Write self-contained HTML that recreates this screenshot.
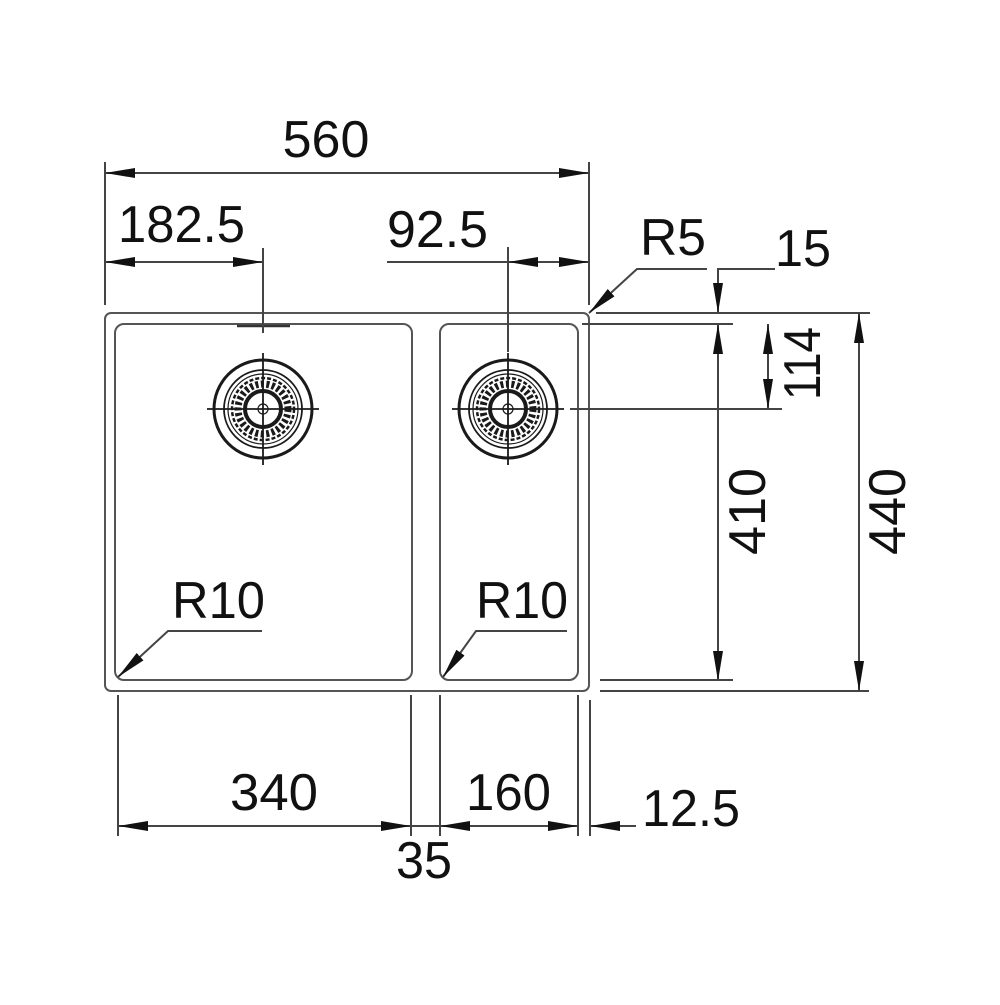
<!DOCTYPE html>
<html><head><meta charset="utf-8"><style>html,body{margin:0;padding:0;background:#fff}</style></head>
<body>
<svg width="1000" height="1000" viewBox="0 0 1000 1000" xmlns="http://www.w3.org/2000/svg">
<defs>
<marker id="a" viewBox="0 0 30 10" refX="30" refY="5" markerWidth="30" markerHeight="10" markerUnits="userSpaceOnUse" orient="auto-start-reverse">
<path d="M0,0 L30,5 L0,10 z" fill="#111"/>
</marker>
<g id="drain" fill="none" stroke="#1a1a1a">
<circle r="49" stroke-width="3"/>
<circle r="39" stroke-width="1.8"/>
<circle r="35" stroke-width="1.2"/>
<circle r="31" stroke-width="2.5" stroke-dasharray="4 2"/>
<circle r="25" stroke-width="7" stroke-dasharray="3 2.5"/>
<circle r="18" stroke-width="4"/>
<circle r="5" stroke-width="1.2"/>
<line x1="-56" y1="0" x2="56" y2="0" stroke-width="1.8"/>
<line x1="0" y1="-56" x2="0" y2="56" stroke-width="1.8"/>
</g>
</defs>
<g fill="none" stroke="#555" stroke-width="2">
<rect x="105" y="313" width="484" height="378" rx="6"/>
<rect x="115" y="324" width="297" height="356" rx="9"/>
<rect x="440" y="324" width="138" height="356" rx="9"/>
<line x1="237" y1="326" x2="290" y2="326" stroke="#333" stroke-width="2.5"/>
</g>
<use href="#drain" x="263" y="409"/>
<use href="#drain" x="508" y="409"/>
<g stroke="#444" stroke-width="2" fill="none">
<line x1="105" y1="162" x2="105" y2="305"/>
<line x1="589" y1="162" x2="589" y2="305"/>
<line x1="263" y1="248" x2="263" y2="333"/>
<line x1="508" y1="247" x2="508" y2="352"/>
<line x1="105" y1="173" x2="589" y2="173" marker-start="url(#a)" marker-end="url(#a)"/>
<line x1="105" y1="262" x2="263" y2="262" marker-start="url(#a)" marker-end="url(#a)"/>
<line x1="387" y1="262" x2="508" y2="262"/>
<line x1="548" y1="262" x2="508" y2="262" marker-end="url(#a)"/>
<line x1="548" y1="262" x2="589" y2="262" marker-end="url(#a)"/>
<polyline points="707,269 637,269 589,313" marker-end="url(#a)"/>
<polyline points="775,269 718,269 718,313" marker-end="url(#a)"/>
<line x1="718" y1="681" x2="718" y2="324" marker-start="url(#a)" marker-end="url(#a)"/>
<line x1="596" y1="313" x2="870" y2="313"/>
<line x1="582" y1="324" x2="733" y2="324"/>
<line x1="570" y1="409" x2="782" y2="409"/>
<line x1="600" y1="680" x2="733" y2="680"/>
<line x1="600" y1="691" x2="869" y2="691"/>
<line x1="768" y1="324" x2="768" y2="409" marker-start="url(#a)" marker-end="url(#a)"/>
<line x1="859" y1="313" x2="859" y2="691" marker-start="url(#a)" marker-end="url(#a)"/>
<polyline points="262,631 168,631 118,677" marker-end="url(#a)"/>
<polyline points="567,631 476,631 443,677" marker-end="url(#a)"/>
<line x1="118" y1="695" x2="118" y2="836"/>
<line x1="411" y1="695" x2="411" y2="836"/>
<line x1="440" y1="695" x2="440" y2="836"/>
<line x1="578" y1="695" x2="578" y2="836"/>
<line x1="590" y1="700" x2="590" y2="836"/>
<line x1="118" y1="826" x2="411" y2="826" marker-start="url(#a)" marker-end="url(#a)"/>
<line x1="440" y1="826" x2="578" y2="826" marker-start="url(#a)" marker-end="url(#a)"/>
<line x1="411" y1="826" x2="440" y2="826"/>
<line x1="636" y1="826" x2="590" y2="826" marker-end="url(#a)"/>
</g>
<g font-family="Liberation Sans, Arial, sans-serif" font-size="52" fill="#111">
<text x="326" y="157" text-anchor="middle">560</text>
<text x="118" y="242" textLength="127" lengthAdjust="spacingAndGlyphs">182.5</text>
<text x="387" y="247" textLength="101" lengthAdjust="spacingAndGlyphs">92.5</text>
<text x="640" y="255" textLength="66" lengthAdjust="spacingAndGlyphs">R5</text>
<text x="775" y="266" textLength="56" lengthAdjust="spacingAndGlyphs">15</text>
<text x="172" y="618" textLength="93" lengthAdjust="spacingAndGlyphs">R10</text>
<text x="476" y="618" textLength="92" lengthAdjust="spacingAndGlyphs">R10</text>
<text x="230" y="810" textLength="88" lengthAdjust="spacingAndGlyphs">340</text>
<text x="466" y="810" textLength="85" lengthAdjust="spacingAndGlyphs">160</text>
<text x="642" y="826" textLength="98" lengthAdjust="spacingAndGlyphs">12.5</text>
<text x="396" y="878" textLength="56" lengthAdjust="spacingAndGlyphs">35</text>
<text transform="translate(820,400) rotate(-90)" textLength="73" lengthAdjust="spacingAndGlyphs">114</text>
<text transform="translate(765,555) rotate(-90)" textLength="87" lengthAdjust="spacingAndGlyphs">410</text>
<text transform="translate(905,555) rotate(-90)" textLength="87" lengthAdjust="spacingAndGlyphs">440</text>
</g>
</svg>
</body></html>
